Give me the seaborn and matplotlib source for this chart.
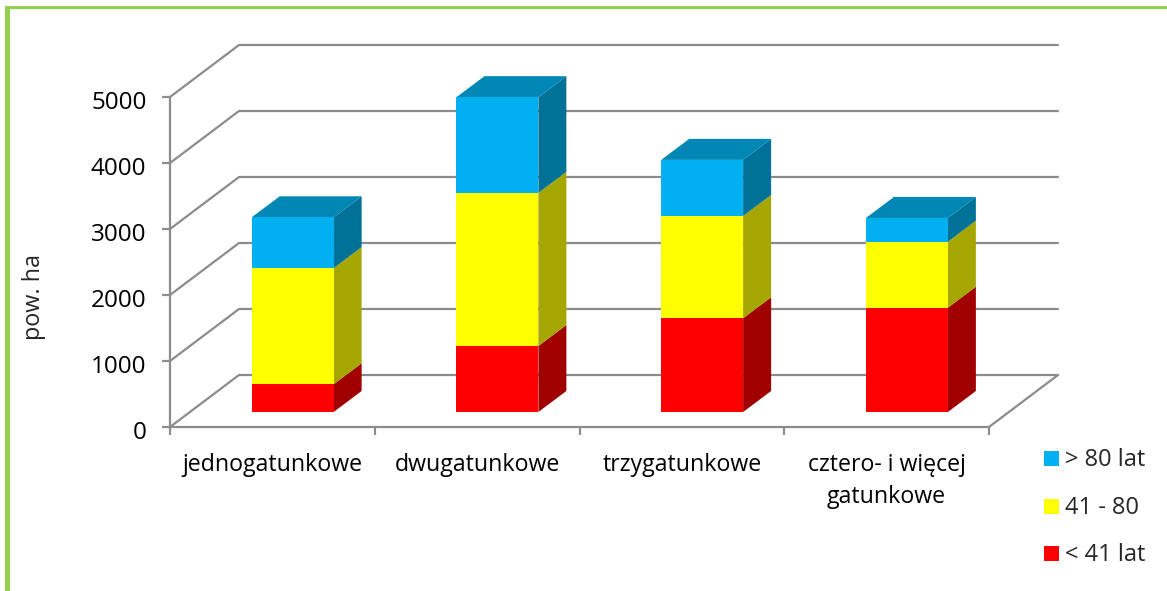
import matplotlib
matplotlib.use("Agg")
import matplotlib.pyplot as plt
import seaborn as sns
import numpy as np
from matplotlib.patches import Polygon, Rectangle
from matplotlib.transforms import Affine2D

categories = ["jednogatunkowe", "dwugatunkowe", "trzygatunkowe", "cztero- i więcej\ngatunkowe"]
young = [420, 1000, 1420, 1580]
middle = [1760, 2320, 1550, 1000]
old = [770, 1450, 850, 360]
y_ticks = [0, 1000, 2000, 3000, 4000, 5000]
series_names = ["< 41 lat", "41 - 80", "> 80 lat"]

front_colors = ["#FF0000", "#FFFF00", "#00B0F0"]
side_colors = ["#A00000", "#A6A600", "#007297"]
top_color = "#0087B5"
grid_color = "#8C8C8C"

sns.set_style("white")
plt.rcParams["font.family"] = ["Open Sans", "DejaVu Sans"]

W, H = 1167, 591
fig = plt.figure(figsize=(W / 100, H / 100), dpi=100)
ax = fig.add_axes([170 / W, 1 - 427 / H, 819 / W, 330 / H])
ax.patch.set_visible(False)

# pixels -> data units, for the fake 3D depth
px_x = 4 / 819
px_y = 5000 / 330

# back wall, side wall and floor
wall_dx, wall_dy = 69 * px_x, 52 * px_y
for t in y_ticks:
    ax.plot([-0.5, -0.5 + wall_dx, 3.5 + wall_dx], [t, t + wall_dy, t + wall_dy],
            color=grid_color, lw=1.6, clip_on=False, zorder=1)
ax.plot([3.5, 3.5 + wall_dx], [0, wall_dy], color=grid_color, lw=1.6, clip_on=False, zorder=1)

# stacked bars, pushed back a bit from the front edge
shift = ax.transData + Affine2D().translate(20.3, 15)
depth_x, depth_y = 28 * px_x, 21 * px_y
bottom = np.zeros(4)
for vals, face, side in zip([young, middle, old], front_colors, side_colors):
    n_before = len(ax.patches)
    sns.barplot(x=categories, y=vals, bottom=bottom, color=face, saturation=1, width=0.4,
                linewidth=0, ax=ax, zorder=3)
    for bar in ax.patches[n_before:]:
        x1 = bar.get_x() + bar.get_width()
        y0, y1 = bar.get_y(), bar.get_y() + bar.get_height()
        bar.set_transform(shift)
        bar.set_clip_on(False)
        ax.add_patch(Polygon([(x1, y0), (x1 + depth_x, y0 + depth_y),
                              (x1 + depth_x, y1 + depth_y), (x1, y1)],
                             closed=True, fc=side, ec="none", transform=shift,
                             clip_on=False, zorder=2))
        if face == front_colors[-1]:
            x0 = bar.get_x()
            ax.add_patch(Polygon([(x0, y1), (x0 + depth_x, y1 + depth_y),
                                  (x1 + depth_x, y1 + depth_y), (x1, y1)],
                                 closed=True, fc=top_color, ec="none", transform=shift,
                                 clip_on=False, zorder=2))
    bottom = bottom + np.array(vals)

ax.set_xlim(-0.5, 3.5)
ax.set_ylim(0, 5000)
ax.set_yticks(y_ticks)
ax.set_xticks(np.arange(-0.5, 4, 1))
ax.set_xticklabels([])
ax.set_xticks(np.arange(4), categories, minor=True)
ax.tick_params(axis="x", which="major", length=6, width=1.6, color=grid_color, bottom=True)
ax.tick_params(axis="x", which="minor", length=0, pad=18.5, labelsize=16.7, colors="black")
ax.tick_params(axis="y", length=6, width=1.6, color=grid_color, left=True, pad=11,
               labelsize=17.5, labelcolor="black")
for lab in ax.get_xticklabels(minor=True):
    lab.set_linespacing(1.45)
for lab in ax.get_yticklabels():
    lab.set_transform(lab.get_transform() + Affine2D().translate(0, -3))
ax.set_xlabel("")
for name in ["top", "right"]:
    ax.spines[name].set_visible(False)
for name in ["left", "bottom"]:
    ax.spines[name].set_color(grid_color)
    ax.spines[name].set_linewidth(1.6)

fig.text(34 / W, 1 - 297 / H, "pow. ha", rotation=90, ha="center", va="center", fontsize=16.8)

# legend
for name, color, ypos in zip(series_names[::-1], front_colors[::-1], [458, 506, 553]):
    fig.add_artist(Rectangle((1044 / W, 1 - (ypos + 7.5) / H), 15 / W, 15 / H, fc=color, ec="none",
                             transform=fig.transFigure))
    fig.text(1065 / W, 1 - (ypos + 2) / H, name, ha="left", va="center", fontsize=17)

# green frame
fig.add_artist(Rectangle((5 / W, 0), 5 / W, 1 - 6 / H, fc="#92D050", ec="none", transform=fig.transFigure))
fig.add_artist(Rectangle((5 / W, 1 - 9 / H), 1 - 5 / W, 3 / H, fc="#92D050", ec="none", transform=fig.transFigure))

fig.savefig("out.png", dpi=100)
